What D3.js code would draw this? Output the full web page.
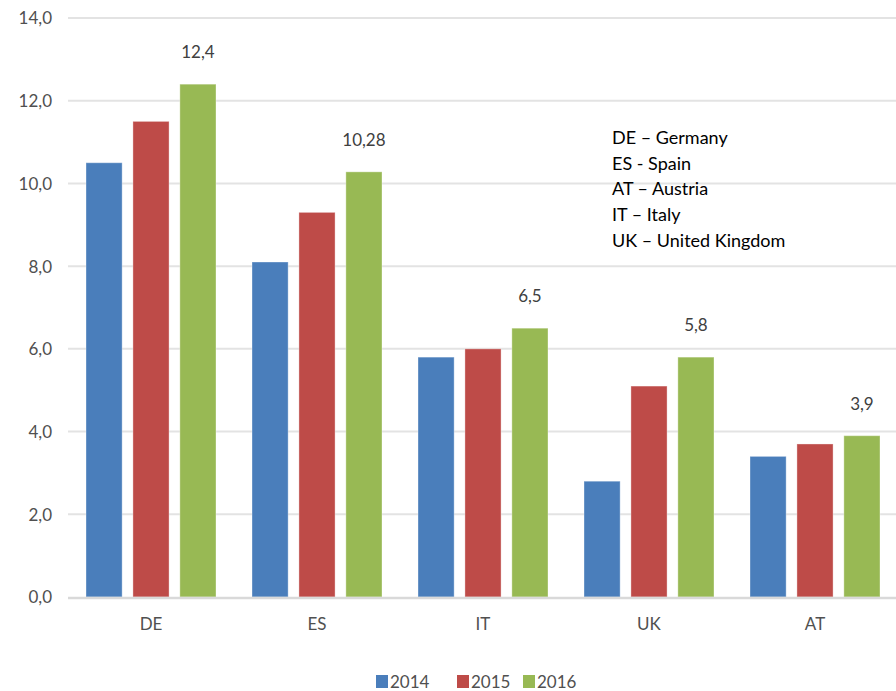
<!DOCTYPE html>
<html>
<head>
<meta charset="utf-8">
<script src="https://cdn.jsdelivr.net/npm/d3@7"></script>
<style>
  body { margin: 0; background: #fff; }
  svg { display: block; }
  text { font-family: Lato, "Open Sans", sans-serif; }
</style>
</head>
<body>
<svg id="chart" width="896" height="691"></svg>
<script>
const categories = ["DE", "ES", "IT", "UK", "AT"];
const seriesNames = ["2014", "2015", "2016"];
const values2014 = [10.5, 8.1, 5.8, 2.8, 3.4];
const values2015 = [11.5, 9.3, 6.0, 5.1, 3.7];
const values2016 = [12.4, 10.28, 6.5, 5.8, 3.9];
const labels2016 = ["12,4", "10,28", "6,5", "5,8", "3,9"];
const yTicks = [0, 2, 4, 6, 8, 10, 12, 14];
const colors = ["#4a7ebb", "#be4b48", "#98b954"];
const noteLines = ["DE \u2013 Germany", "ES - Spain", "AT \u2013 Austria", "IT \u2013 Italy", "UK \u2013 United Kingdom"];

const seriesValues = [values2014, values2015, values2016];
const svg = d3.select("#chart");

const x0 = d3.scaleBand().domain(categories).range([68, 898]).padding(0);
const x1 = d3.scaleBand().domain(seriesNames).range([18, x0.bandwidth() - 18]).paddingInner(0.23).paddingOuter(0);
const y = d3.scaleLinear().domain([0, 14]).range([597, 18]);

// gridlines
svg.append("g").selectAll("line").data(yTicks.filter(d => d > 0)).join("line")
  .attr("x1", 68).attr("x2", 896)
  .attr("y1", d => y(d)).attr("y2", d => y(d))
  .attr("stroke", "#e3e3e3").attr("stroke-width", 2);

// y axis labels
const yAxis = d3.axisLeft(y).tickValues(yTicks).tickSize(0).tickPadding(0)
  .tickFormat(d => d3.format(".1f")(d).replace(".", ","));
const yg = svg.append("g").attr("transform", "translate(52,0)").call(yAxis);
yg.select(".domain").remove();
yg.selectAll("text").attr("fill", "#505050").attr("font-size", 17).attr("dy", "0.35em");

// bars
const groups = svg.append("g").selectAll("g").data(categories).join("g")
  .attr("transform", d => `translate(${x0(d)},0)`);
groups.selectAll("rect").data((c, i) => seriesNames.map((s, j) => ({ s, j, v: seriesValues[j][i] }))).join("rect")
  .attr("x", d => x1(d.s))
  .attr("width", x1.bandwidth())
  .attr("y", d => y(d.v))
  .attr("height", d => y(0) - y(d.v))
  .attr("fill", d => colors[d.j])
  .attr("stroke", "rgba(255,255,255,0.35)").attr("stroke-width", 1);

// x axis baseline
svg.append("line").attr("x1", 68).attr("x2", 896).attr("y1", y(0) + 1).attr("y2", y(0) + 1)
  .attr("stroke", "#d9d9d9").attr("stroke-width", 2.5);

const xAxis = d3.axisBottom(x0).tickSize(0).tickPadding(0);
const xg = svg.append("g").attr("transform", `translate(0,${y(0)})`).call(xAxis);
xg.select(".domain").remove();
xg.selectAll("text").attr("fill", "#505050").attr("font-size", 17).attr("dy", "1.95em");

// data labels for 2016
svg.append("g").selectAll("text").data(categories).join("text")
  .attr("x", d => x0(d) + x1("2016") + x1.bandwidth() / 2)
  .attr("y", (d, i) => y(values2016[i]) - 26)
  .attr("text-anchor", "middle")
  .attr("fill", "#404040").attr("font-size", 17)
  .text((d, i) => labels2016[i]);

// note text
svg.append("g").selectAll("text").data(noteLines).join("text")
  .attr("x", 612).attr("y", (d, i) => 144 + i * 25.7)
  .attr("fill", "#000").attr("font-size", 18)
  .text(d => d);

// legend
const legendX = [376, 457, 523];
const lg = svg.append("g").selectAll("g").data(seriesNames).join("g")
  .attr("transform", (d, i) => `translate(${legendX[i]},675)`);
lg.append("rect").attr("width", 12).attr("height", 13).attr("fill", (d, i) => colors[i]);
lg.append("text").attr("x", 14).attr("y", 13).attr("fill", "#505050").attr("font-size", 17).text(d => d);
</script>
</body>
</html>
